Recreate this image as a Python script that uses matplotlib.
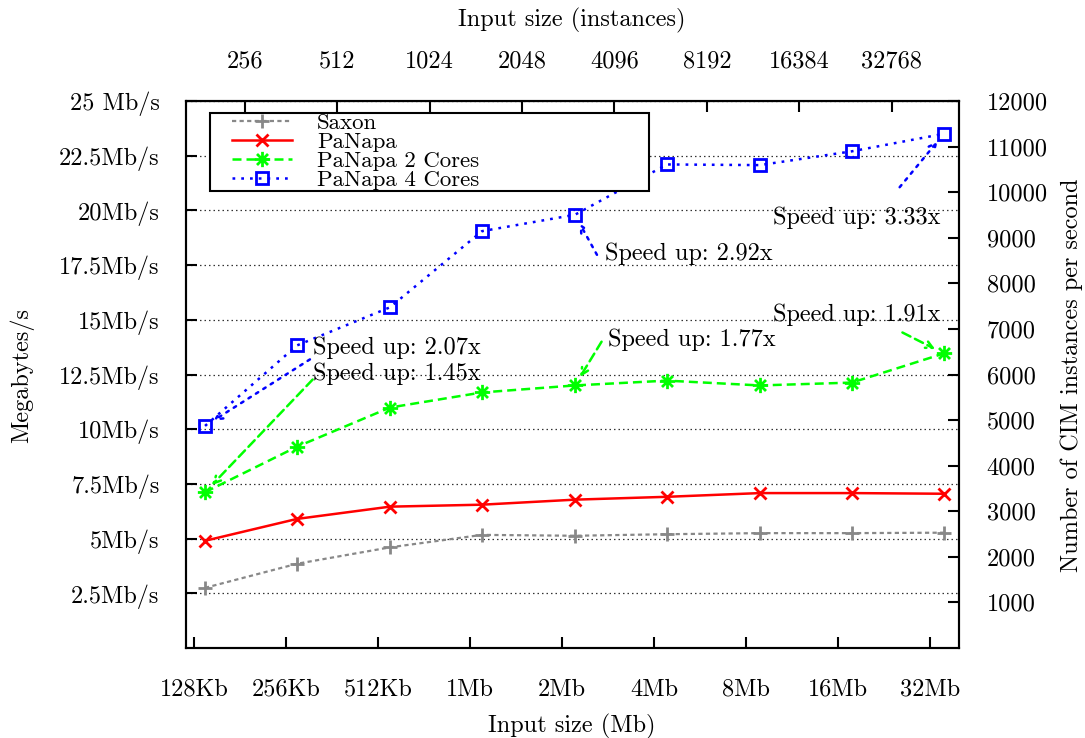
import matplotlib
matplotlib.use("Agg")
import matplotlib.pyplot as plt
from matplotlib.path import Path
from matplotlib.patches import Rectangle

plt.rcParams["font.family"] = ["cmr10", "DejaVu Serif"]
plt.rcParams["axes.formatter.use_mathtext"] = True

# ---- data -------------------------------------------------------------
size_labels = ["128Kb", "256Kb", "512Kb", "1Mb", "2Mb", "4Mb", "8Mb", "16Mb", "32Mb"]
instance_labels = ["256", "512", "1024", "2048", "4096", "8192", "16384", "32768"]
x_sizes = [0, 1, 2, 3, 4, 5, 6, 7, 8]
x_data = [0.12, 1.12, 2.13, 3.13, 4.14, 5.14, 6.15, 7.15, 8.15]
x_instances = [0.554, 1.558, 2.562, 3.566, 4.570, 5.574, 6.578, 7.582]

saxon = [2.75, 3.85, 4.60, 5.17, 5.13, 5.20, 5.25, 5.25, 5.27]
panapa = [4.90, 5.90, 6.46, 6.55, 6.78, 6.91, 7.08, 7.08, 7.05]
panapa_2 = [7.12, 9.20, 10.99, 11.68, 12.00, 12.22, 12.00, 12.13, 13.46]
panapa_4 = [10.15, 13.83, 15.57, 19.05, 19.80, 22.10, 22.07, 22.70, 23.50]

mbs_ticks = [2.5, 5, 7.5, 10, 12.5, 15, 17.5, 20, 22.5, 25]
mbs_labels = ["2.5Mb/s", "5Mb/s", "7.5Mb/s", "10Mb/s", "12.5Mb/s", "15Mb/s",
              "17.5Mb/s", "20Mb/s", "22.5Mb/s", "25 Mb/s"]
inst_ticks = [1000, 2000, 3000, 4000, 5000, 6000, 7000, 8000, 9000, 10000, 11000, 12000]

# ---- styles -----------------------------------------------------------
GREY, RED, GREEN, BLUE = "#888888", "#ff0000", "#00ff00", "#0000ff"
asterisk = Path(
    [(-1, 0), (1, 0), (0, -1), (0, 1), (-0.72, -0.72), (0.72, 0.72), (-0.72, 0.72), (0.72, -0.72)],
    [Path.MOVETO, Path.LINETO] * 4,
)
saxon_dash = (0, (1.9, 1.5))
green_dash = (0, (3.6, 2.0))
blue_dash = (0, (1.1, 2.4))

FS = 17.5

fig = plt.figure(figsize=(10.85, 7.38), dpi=100)
ax = fig.add_axes([186 / 1085, 1 - 648 / 738, 773 / 1085, 547 / 738])
ax.set_xlim(-0.087, 8.315)
ax.set_ylim(0, 25)

ax.grid(axis="y", linestyle=(0, (1.2, 2.4)), color="#333333", linewidth=0.9)
ax.set_axisbelow(True)

ax.plot(x_data, saxon, color=GREY, linestyle=saxon_dash, linewidth=1.6,
        marker="+", markersize=10, markeredgewidth=2, label="Saxon")
ax.plot(x_data, panapa, color=RED, linestyle="-", linewidth=1.8,
        marker="x", markersize=8.5, markeredgewidth=2, label="PaNapa")
ax.plot(x_data, panapa_2, color=GREEN, linestyle=green_dash, linewidth=1.8,
        marker=asterisk, markersize=11, markeredgewidth=2, label="PaNapa 2 Cores")
ax.plot(x_data, panapa_4, color=BLUE, linestyle=blue_dash, linewidth=1.8,
        marker="s", markersize=8.5, markeredgewidth=2, markerfacecolor="none",
        label="PaNapa 4 Cores")

# ---- speed-up annotations --------------------------------------------
def speedup(series, i, color, ls, tail, text_xy, ha="left"):
    ratio = series[i] / panapa[i]
    ax.annotate("", xy=(x_data[i], series[i]), xytext=tail,
                arrowprops=dict(arrowstyle="->,head_length=0.5,head_width=0.25",
                                color=color, linestyle=ls, linewidth=1.8,
                                shrinkA=0, shrinkB=7))
    ax.text(text_xy[0], text_xy[1], f"Speed up: {ratio:.2f}x", ha=ha, va="center",
            fontsize=FS)

speedup(panapa_4, 0, BLUE, blue_dash, (1.26, 13.19), (1.29, 13.74))
speedup(panapa_2, 0, GREEN, green_dash, (1.29, 12.27), (1.29, 12.55))
speedup(panapa_2, 4, GREEN, green_dash, (4.43, 14.0), (4.50, 14.1))
speedup(panapa_4, 4, BLUE, blue_dash, (4.38, 17.97), (4.47, 18.0))
speedup(panapa_4, 8, BLUE, blue_dash, (7.67, 21.06), (8.11, 19.68), ha="right")
speedup(panapa_2, 8, GREEN, green_dash, (7.70, 14.42), (8.11, 15.25), ha="right")

# ---- axes, ticks ------------------------------------------------------
for sp in ax.spines.values():
    sp.set_linewidth(1.5)

ax.set_xticks(x_sizes)
ax.set_xticklabels(size_labels, fontsize=FS)
ax.set_yticks(mbs_ticks)
ax.set_yticklabels(mbs_labels, fontsize=FS)
ax.tick_params(axis="x", direction="in", length=8, width=1.5, pad=22, bottom=True, top=False)
ax.tick_params(axis="y", direction="in", length=8, width=1.5, pad=19, left=True, right=False)

top = ax.secondary_xaxis("top")
top.set_xticks(x_instances)
top.set_xticklabels(instance_labels, fontsize=FS)
top.tick_params(direction="in", length=8, width=1.5, pad=20.5)

right = ax.twinx()
right.set_ylim(0, 12000)
right.set_yticks(inst_ticks)
right.set_yticklabels([str(t) for t in inst_ticks], fontsize=FS)
right.tick_params(direction="in", length=8, width=1.5, pad=20)
for sp in right.spines.values():
    sp.set_linewidth(1.5)

fig.text(572 / 1085, 1 - 726 / 738, "Input size (Mb)", ha="center", va="center", fontsize=FS)
fig.text(572 / 1085, 1 - 20 / 738, "Input size (instances)", ha="center", va="center", fontsize=FS)
fig.text(22 / 1085, 1 - 375 / 738, "Megabytes/s", ha="center", va="center", rotation=90, fontsize=FS)
fig.text(1072 / 1085, 1 - 375 / 738, "Number of CIM instances per second", ha="center",
         va="center", rotation=90, fontsize=FS)

# legend: frameless entries inside a plain black box
ax.add_patch(Rectangle(((210 - 186) / 773, (648 - 191) / 547), (649 - 210) / 773, (191 - 113) / 547,
                       transform=ax.transAxes, facecolor="white", edgecolor="black",
                       linewidth=1.5, zorder=5))
leg = ax.legend(loc="upper left", bbox_to_anchor=((232 - 186) / 773, (648 - 113) / 547),
                fontsize=16.5, frameon=False, borderaxespad=0, borderpad=0,
                handlelength=2.6, handletextpad=1.1, labelspacing=-0.05)
leg.set_zorder(6)

fig.savefig("out.png", dpi=100)
